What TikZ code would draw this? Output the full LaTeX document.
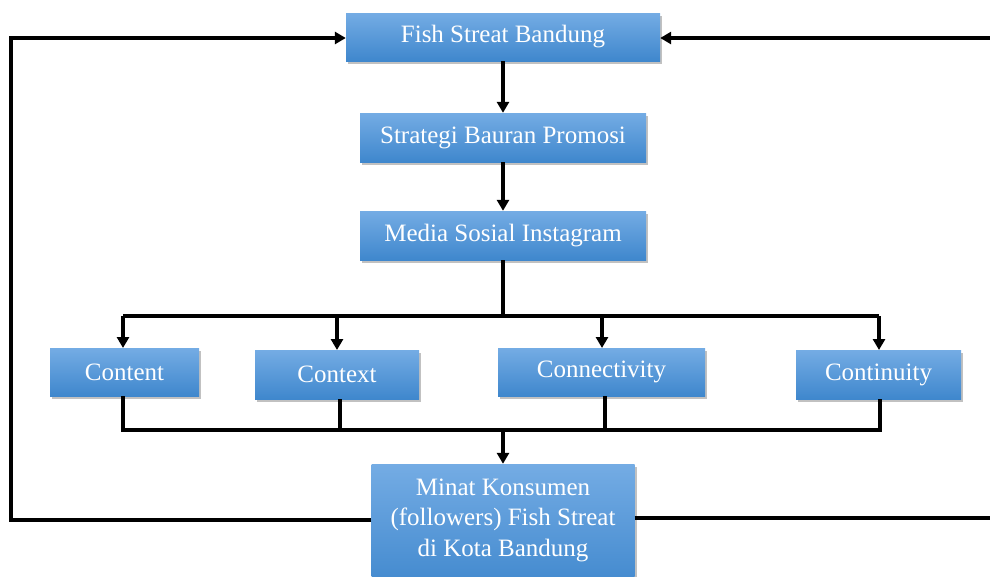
\documentclass[tikz,border=0pt]{standalone}
\usepackage{fontspec}
\setmainfont{Liberation Serif}
\usetikzlibrary{arrows.meta,shadows,calc}
\definecolor{boxtop}{HTML}{74ACE4}
\definecolor{boxbot}{HTML}{3F87CD}
\begin{document}
\begin{tikzpicture}[x=1pt,y=-1pt,
  bx/.style={rectangle, top color=boxtop, bottom color=boxbot, draw=none,
    text=white, font=\fontsize{25}{30}\selectfont, align=center, inner sep=0pt,
    drop shadow={shadow xshift=2pt, shadow yshift=-3pt, opacity=0.35, fill=black!70}},
  ln/.style={line width=3.2pt, black},
  tip/.style={-{Triangle[length=11pt,width=12pt]}},
  ar/.style={ln, tip}]
\useasboundingbox (0,0) rectangle (990,576);
\clip (0,0) rectangle (990,576);
% boxes
\node[bx, minimum width=314pt, minimum height=48pt] (fish) at (503,37) {Fish Streat Bandung};
\node[bx, minimum width=286pt, minimum height=49pt] (strat) at (503,137.5) {Strategi Bauran Promosi};
\node[bx, minimum width=286pt, minimum height=49pt] (media) at (503,235.5) {Media Sosial Instagram};
\node[bx, minimum width=149pt, minimum height=48pt] (content) at (124.5,372) {Content};
\node[bx, minimum width=164pt, minimum height=49pt] (context) at (337,374.5) {Context};
\node[bx, minimum width=207pt, minimum height=48pt] (connect) at (601.5,372) {Connectivity};
\node[bx, minimum width=165pt, minimum height=49pt] (contin) at (878.5,374.5) {Continuity};
\node[bx, minimum width=263pt, minimum height=130pt] (minat) at (503,529) {};
\node[text=white, font=\fontsize{25}{30.5}\selectfont, align=center, anchor=north] (minattext) at (503,475) {Minat Konsumen\\(followers) Fish Streat\\di Kota Bandung};
% coordinates
\coordinate (split) at (503,316);
\coordinate (join) at (503,430);
\coordinate (lb) at (11,520);
\coordinate (lt) at (11,38);
\coordinate (rb) at (995,518);
\coordinate (rt) at (995,38);
% top chain
\draw[ar] (fish.south) -- (strat.north);
\draw[ar] (strat.south) -- (media.north);
\draw[ln] (media.south) -- (split);
\draw[ln] (123,316) -- (879,316);
\draw[ar] (123,316) -- (123,348);
\draw[ar] (337,316) -- (337,350);
\draw[ar] (602,316) -- (602,348);
\draw[ar] (879,316) -- (879,350);
% bottom collector
\draw[ln] (content.south -| 123,0) |- (join);
\draw[ln] (context.south -| 340,0) -- (340,430);
\draw[ln] (connect.south -| 605,0) -- (605,430);
\draw[ln] (contin.south -| 880,0) |- (join);
\draw[ar] (join) -- (minat.north);
% feedback loops
\draw[ar] (minat.west |- lb) -- (lb) -- (lt) -- (fish.west |- lt);
\draw[ar] (minat.east |- rb) -- (rb) -- (rt) -- (fish.east |- rt);
\end{tikzpicture}
\end{document}
